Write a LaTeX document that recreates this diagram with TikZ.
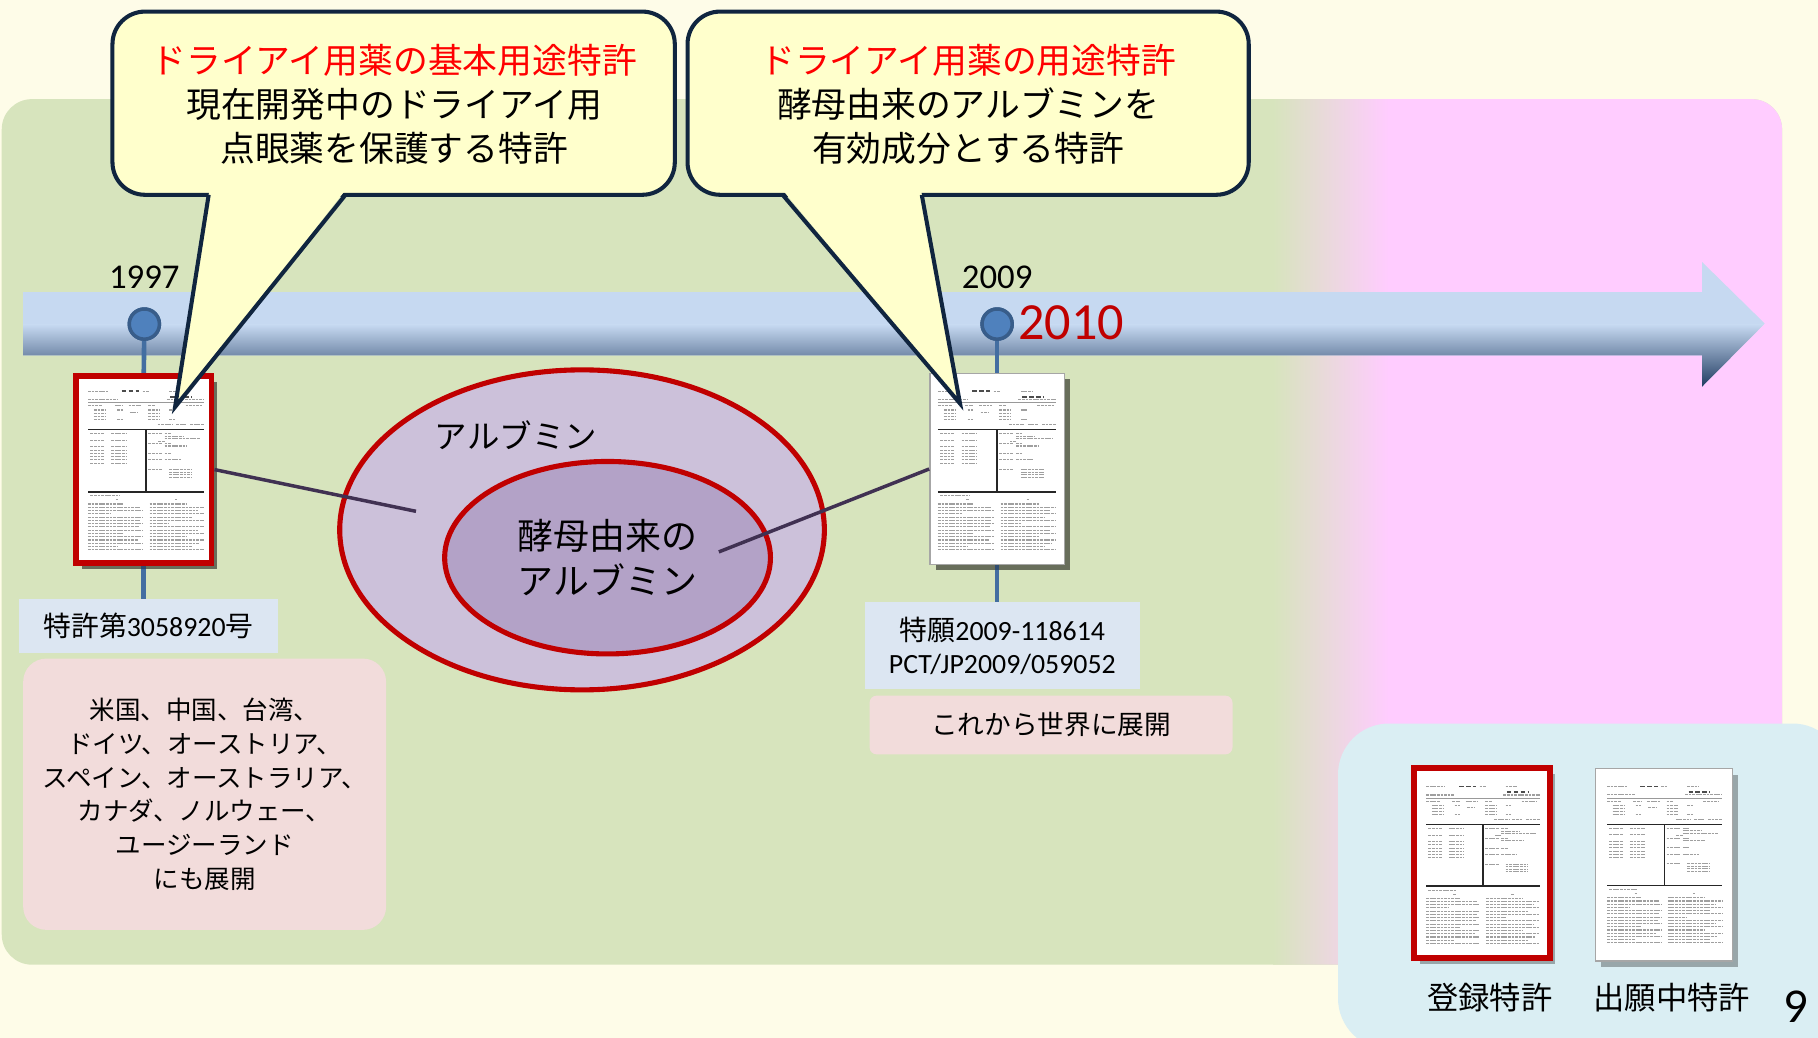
\documentclass[tikz,border=0pt]{standalone}
\usepackage{fontspec}
\setmainfont{Noto Sans CJK JP}
\newfontfamily\latn{Carlito}
\usetikzlibrary{shapes.geometric,shadows}
\definecolor{bgc}{HTML}{FEFCE8}
\definecolor{grn}{HTML}{D7E4BD}
\definecolor{pnk}{HTML}{FFCCFF}
\definecolor{callbg}{HTML}{FFFFCC}
\definecolor{navy}{HTML}{10253F}
\definecolor{dred}{HTML}{C00000}
\definecolor{tllight}{HTML}{C6D9F1}
\definecolor{tldark}{HTML}{1F3A60}
\definecolor{mblue}{HTML}{4F81BD}
\definecolor{mdark}{HTML}{385D8A}
\definecolor{cpurp}{HTML}{403152}
\definecolor{lblue}{HTML}{DCE6F2}
\definecolor{lpink}{HTML}{F2DCDB}
\definecolor{legbg}{HTML}{DAEEF3}
\definecolor{ellout}{HTML}{CCC1DA}
\definecolor{ellin}{HTML}{B3A2C7}
\newcommand\docbody[4]{%
\begin{scope}[shift={(#1,#2)},x=#3,y=#4]
\draw[dt] (0,0.01) -- (0.17,0.01);
\draw[dtb] (0.29,0.01) -- (0.44,0.01);
\draw[dt] (0.47,0.01) -- (0.53,0.01);
\draw[dt] (0.70,0.01) -- (0.80,0.01);
\draw[dtb] (0.71,0.045) -- (0.90,0.045);
\draw[dt] (0,0.062) -- (0.25,0.062);
\draw[dt] (0.68,0.062) -- (1,0.062);
\draw[dl] (0,0.08) -- (1,0.08);
\foreach \a/\b in {0/0.12,0.23/0.3,0.35/0.46,0.52/0.58,0.84/0.98} \draw[dt] (\a,0.1) -- (\b,0.1);
\foreach \y in {0.125,0.145,0.165,0.185} {\draw[dt] (0.05,\y) -- (0.15,\y); \draw[dt] (0.52,\y) -- (0.62,\y);}
\draw[dt] (0.25,0.125) -- (0.3,0.125); \draw[dt] (0.36,0.14) -- (0.43,0.14); \draw[dt] (0.7,0.125)--(0.75,0.125);
\draw[dt] (0.25,0.185)--(0.3,0.185); \draw[dt] (0.7,0.185)--(0.75,0.185);
\draw[dt] (0.6,0.215)--(0.73,0.215); \draw[dt] (0.76,0.215)--(0.85,0.215); \draw[dt] (0.88,0.215)--(1,0.215);
\draw[dk] (0,0.245) -- (1,0.245);
\draw[dk] (0.5,0.245) -- (0.5,0.625);
\draw[dk] (0,0.625) -- (1,0.625);
\foreach \y in {0.27,0.31,0.35,0.37,0.39,0.41,0.43,0.45} {\draw[dt] (0.02,\y) -- (0.14,\y); \draw[dt] (0.2,\y) -- (0.33,\y);}
\foreach \y in {0.27,0.33,0.39,0.43,0.49} \draw[dt] (0.52,\y) -- (0.64,\y);
\foreach \y/\l in {0.27/0.72,0.285/0.82,0.30/0.97,0.315/0.6,0.33/0.72,0.345/0.85,0.39/0.72,0.43/0.8} \draw[dt] (0.66,\y) -- (\l,\y);
\foreach \y in {0.49,0.505,0.52,0.535} \draw[dt] (0.7,\y) -- (0.9,\y);
\draw[dt] (0.02,0.65) -- (0.27,0.65);
\draw[dt] (0.24,0.675)--(0.26,0.675); \draw[dt] (0.75,0.675)--(0.77,0.675);
\foreach \y/\l/\r in {0.70/0.3/0.85,0.72/0.45/1,0.74/0.47/0.95,0.76/0.2/1,0.78/0.47/0.9,0.80/0.45/1,0.82/0.47/0.7,0.84/0.44/1,0.86/0.47/0.95,0.88/0.3/1,0.90/0.47/0.85,0.92/0.43/1,0.94/0.47/0.96,0.96/0.25/0.9,0.98/0.47/1}
  {\draw[dt] (0,\y) -- (\l,\y); \draw[dt] (0.53,\y) -- (\r,\y);}
\end{scope}}
\begin{document}
\begin{tikzpicture}[x=0.5pt,y=-0.5pt,
  dt/.style={gray!75,line width=0.45pt,dash pattern=on 1.2pt off 0.35pt},
  dtb/.style={black!70,line width=0.8pt,dash pattern=on 2pt off 1pt},
  dl/.style={gray!80,line width=0.3pt},
  dk/.style={black!85,line width=0.7pt},
  callline/.style={draw=navy,line width=1.75pt,line join=miter},
  shad/.style={drop shadow={shadow xshift=2.5pt,shadow yshift=-2.5pt,opacity=0.3,fill=black}},
  docred/.style={draw=dred,line width=2.5pt,fill=white,inner sep=0pt,shad},
  docplain/.style={draw=gray!70,line width=0.6pt,fill=white,inner sep=0pt,shad},
  vline/.style={draw=mblue!85!black,line width=2pt},
  marker/.style={circle,fill=mblue,draw=mdark,line width=1.5pt,minimum size=13pt,inner sep=0pt},
  conn/.style={draw=cpurp,line width=1.5pt},
  lblbox/.style={fill=lblue,inner sep=0pt,align=center},
  pinkbox/.style={fill=lpink,inner sep=0pt,align=center},
  ell/.style={ellipse,draw=dred,line width=2.2pt,inner sep=0pt},
]
\useasboundingbox (0,0) rectangle (1568,895);
\fill[bgc] (0,0) rectangle (1568,895);
% main green/pink area
\fill[grn,rounded corners=13pt] (1.5,85.5) rectangle (1537,832);
\begin{scope}
\clip[rounded corners=13pt] (1.5,85.5) rectangle (1537,832);
\shade[left color=grn,right color=pnk] (1098,80) rectangle (1198,840);
\fill[pnk] (1197.5,80) rectangle (1545,840);
\end{scope}
% timeline arrow
\fill[tllight] (20,252) -- (1468,252) -- (1468,226) -- (1522,279) -- (1468,333.5) -- (1468,306.5) -- (20,306.5) -- cycle;
\begin{scope}
\clip (20,252) -- (1468,252) -- (1468,226) -- (1522,279) -- (1468,333.5) -- (1468,306.5) -- (20,306.5) -- cycle;
\shade[top color=tllight,bottom color=tldark] (0,280) rectangle (1530,334);
\end{scope}
% markers and years
\node[marker] (m1) at (124.5,279.5) {};
\node[marker] (m2) at (860,279.5) {};
\node[anchor=base,font=\latn\fontsize{15}{18}\selectfont] (y1) at (124.5,248.5) {1997};
\node[anchor=base,font=\latn\fontsize{15}{18}\selectfont] (y2) at (860,248.5) {2009};
\node[anchor=base west,inner sep=0pt,text=dred,font=\latn\fontsize{22.5}{26}\selectfont] (y3) at (878,293) {2010};
% labels
\node[lblbox,minimum width=112pt,minimum height=23pt,font=\fontsize{12}{14}\selectfont] (l1) at (128,540) {特許第{\latn 3058920}号};
\node[pinkbox,rounded corners=10pt,minimum width=156.5pt,minimum height=117pt,font=\fontsize{11}{14.5}\selectfont] (p1) at (176.5,685) {米国、中国、台湾、\\ドイツ、オーストリア、\\スペイン、オーストラリア、\\カナダ、ノルウェー、\\ユージーランド\\にも展開};
\node[lblbox,minimum width=118.5pt,minimum height=37.5pt,font=\latn\fontsize{12}{14.3}\selectfont] (l2) at (864.5,557) {{\rmfamily 特願}2009-118614\\PCT/JP2009/059052};
\node[pinkbox,rounded corners=3pt,minimum width=156.5pt,minimum height=25.3pt,font=\fontsize{11.5}{14}\selectfont] (p2) at (906.5,625.3) {これから世界に展開};
% docs and vertical lines
\node[docred,minimum width=58.5pt,minimum height=80.5pt] (d1) at (124,405) {};
\node[docplain,minimum width=58pt,minimum height=82.5pt] (d2) at (860,404.5) {};
\draw[vline] (m1) -- (d1.north);
\draw[vline] (d1.south) -- (l1.north -| d1.south);
\draw[vline] (m2) -- (d2.north);
\draw[vline] (d2.south) -- (l2.north -| d2.south);
\node[marker] at (m1) {};
\node[marker] at (m2) {};
\node[docred,minimum width=58.5pt,minimum height=80.5pt] at (d1) {};
\node[docplain,minimum width=58pt,minimum height=82.5pt] at (d2) {};
\docbody{76}{336}{50pt}{-70.5pt}
\docbody{809}{336}{51pt}{-70.5pt}
% ellipses
\node[ell,fill=ellout,minimum width=209pt,minimum height=138pt] (eo) at (502,457) {};
\node[ell,fill=ellin,minimum width=140.5pt,minimum height=83pt] (ei) at (524,481) {};
\node[font=\fontsize{14}{16}\selectfont] (t1) at (445,375) {アルブミン};
\node[align=center,font=\fontsize{15.5}{19.25}\selectfont] (t2) at (524,481) {酵母由来の\\アルブミン};
\coordinate (e1) at (358.8,441);
\coordinate (e2) at (620,476);
\draw[conn] (d1.east) -- (e1);
\draw[conn] (d2.west) -- (e2);
% callout 1
\filldraw[fill=callbg,callline,rounded corners=14pt] (97,10) rectangle (582,168);
\fill[callbg] (180.5,164.5) -- (151,351) -- (297.5,164.5) -- cycle;
\draw[callline] (180,168) -- (151,351) -- (298,168);
\node[align=center,font=\fontsize{15}{19}\selectfont] (c1) at (340,90) {\textcolor{red}{ドライアイ用薬の基本用途特許}\\現在開発中のドライアイ用\\点眼薬を保護する特許};
% callout 2
\filldraw[fill=callbg,callline,rounded corners=14pt] (593,10) rectangle (1077,168);
\fill[callbg] (675.5,164.5) -- (828,348) -- (794.5,164.5) -- cycle;
\draw[callline] (675,168) -- (828,348) -- (795,168);
\node[align=center,font=\fontsize{15}{19}\selectfont] (c2) at (835,90) {\textcolor{red}{ドライアイ用薬の用途特許}\\酵母由来のアルブミンを\\有効成分とする特許};
% legend
\fill[legbg,rounded corners=22pt] (1154,624) rectangle (1590,905);
\node[docred,minimum width=58.5pt,minimum height=82pt] (g1) at (1278,744.5) {};
\node[docplain,minimum width=59pt,minimum height=83pt] (g2) at (1435,746) {};
\docbody{1230}{677}{49pt}{-69.75pt}
\docbody{1386}{677}{49.5pt}{-69.5pt}
\node[font=\fontsize{13.5}{16}\selectfont] (g1t) at (1285,860) {登録特許};
\node[font=\fontsize{13.5}{16}\selectfont] (g2t) at (1442,860) {出願中特許};
\node[anchor=base east,inner sep=0pt,font=\latn\fontsize{21}{24}\selectfont] (pg) at (1560,882) {9};
\end{tikzpicture}
\end{document}
